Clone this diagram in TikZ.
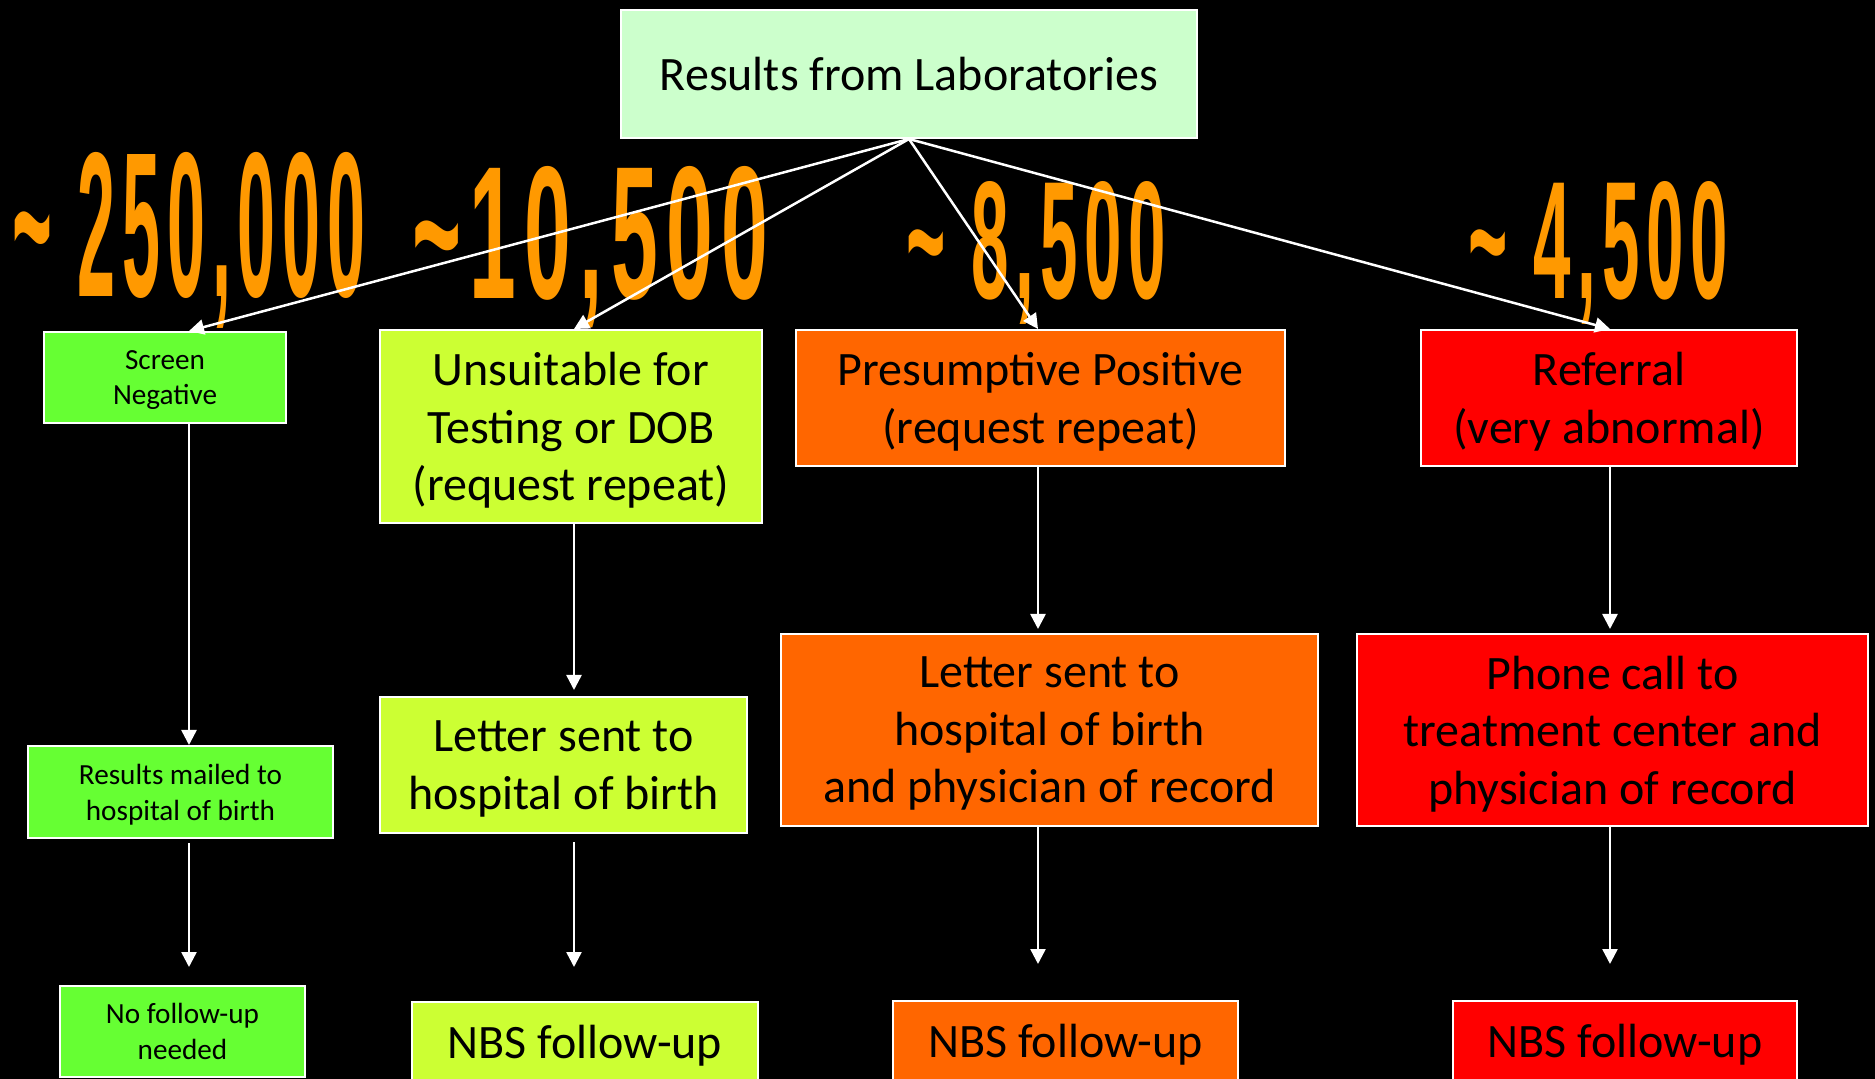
\documentclass[tikz,border=0pt]{standalone}
\usepackage{fontspec}
\setmainfont{Carlito}
\newfontfamily\numfont[LetterSpace=10]{Liberation Sans}
\usetikzlibrary{arrows.meta}
\definecolor{labgreen}{HTML}{CCFFCC}
\definecolor{neggreen}{HTML}{66FF33}
\definecolor{unslime}{HTML}{CCFF33}
\definecolor{presorange}{HTML}{FF6600}
\definecolor{refred}{HTML}{FF0000}
\definecolor{numorange}{HTML}{FF9900}

\begin{document}
\begin{tikzpicture}[x=0.5pt,y=-0.5pt,
  box/.style={draw=white,line width=1pt,inner sep=0pt,align=center,text=black,
    text depth=0pt,font=\fontsize{24}{28.7}\selectfont},
  smallbox/.style={box,font=\fontsize{14.6}{17.9}\selectfont},
  num/.style={inner sep=0pt,anchor=base west,text=numorange,font=\numfont\bfseries},
  arr/.style={white,line width=1.25pt,-{Triangle[width=7.5pt,length=7.5pt]}}]
  \fill[black] (0,0) rectangle (1875,1079);
  \clip (0,0) rectangle (1875,1079);

  \node[num] (n1) at (12,297) {\resizebox{176.5pt}{72pt}{\textasciitilde\ 250,000}};
  \node[num] (n2) at (412,299) {\resizebox{178pt}{66pt}{\textasciitilde10,500}};
  \node[num] (n3) at (906,299) {\resizebox{130pt}{58.5pt}{\textasciitilde\ 8,500}};
  \node[num] (n4) at (1468,299) {\resizebox{130pt}{58.5pt}{\textasciitilde\ 4,500}};

  \node[box,fill=labgreen,minimum width=288pt,minimum height=64pt] (lab) at (909,74) {Results from Laboratories};

  \node[smallbox,fill=neggreen,minimum width=121pt,minimum height=45.5pt] (neg) at (165,377.5) {Screen\\Negative};
  \node[box,fill=unslime,minimum width=191pt,minimum height=96.5pt] (uns) at (571,426.5) {Unsuitable for\\Testing or DOB\\(request repeat)};
  \node[box,fill=presorange,minimum width=244.5pt,minimum height=68pt] (pres) at (1040.5,398) {Presumptive Positive\\(request repeat)};
  \node[box,fill=refred,minimum width=188pt,minimum height=68pt] (ref) at (1609,398) {Referral\\(very abnormal)};

  \node[smallbox,fill=neggreen,minimum width=152.5pt,minimum height=46pt] (mail) at (180.5,792) {Results mailed to\\hospital of birth};
  \node[box,fill=unslime,minimum width=183.5pt,minimum height=68pt] (letA) at (563.5,765) {Letter sent to\\hospital of birth};
  \node[box,fill=presorange,minimum width=268.5pt,minimum height=96pt] (letB) at (1049.5,730) {Letter sent to\\hospital of birth\\and physician of record};
  \node[box,fill=refred,minimum width=255.5pt,minimum height=96pt] (phone) at (1612.5,730) {Phone call to\\treatment center and\\physician of record};

  \node[smallbox,fill=neggreen,minimum width=122.5pt,minimum height=45.5pt] (nofu) at (182.5,1031.5) {No follow-up\\needed};
  \node[box,fill=unslime,minimum width=173pt,minimum height=40pt] (nbsA) at (585,1042) {NBS follow-up};
  \node[box,fill=presorange,minimum width=172.5pt,minimum height=40pt] (nbsB) at (1065.5,1041) {NBS follow-up};
  \node[box,fill=refred,minimum width=172pt,minimum height=40pt] (nbsC) at (1625,1041) {NBS follow-up};

  \coordinate (c1) at (189,0);
  \coordinate (c2) at (574,0);
  \coordinate (c3) at (1038,0);
  \coordinate (c4) at (1610,0);

  \draw[arr] (lab.south) -- (neg.north -| c1);
  \draw[arr] (lab.south) -- (uns.north -| c2);
  \draw[arr] (lab.south) -- (pres.north -| c3);
  \draw[arr] (lab.south) -- (ref.north -| c4);

  \draw[arr] (neg.south -| c1) -- (mail.north -| c1);
  \draw[arr,shorten <=2pt,shorten >=9pt] (mail.south -| c1) -- (nofu.north -| c1);
  \draw[arr,shorten >=3pt] (uns.south -| c2) -- (letA.north -| c2);
  \draw[arr,shorten <=4pt,shorten >=17pt] (letA.south -| c2) -- (nbsA.north -| c2);
  \draw[arr,shorten >=2pt] (pres.south -| c3) -- (letB.north -| c3);
  \draw[arr,shorten >=18pt] (letB.south -| c3) -- (nbsB.north -| c3);
  \draw[arr,shorten >=2pt] (ref.south -| c4) -- (phone.north -| c4);
  \draw[arr,shorten >=18pt] (phone.south -| c4) -- (nbsC.north -| c4);
\end{tikzpicture}
\end{document}
